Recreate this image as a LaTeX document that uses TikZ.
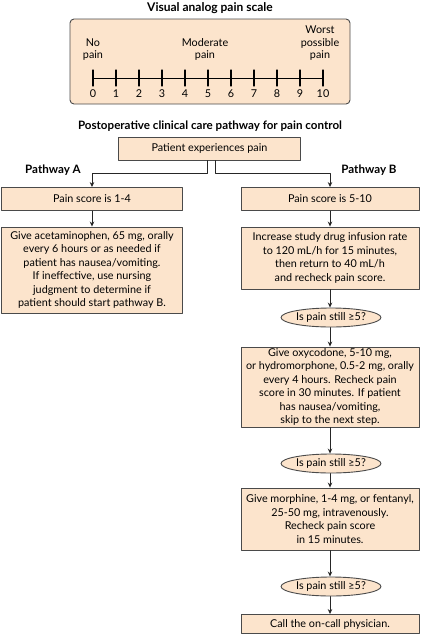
\documentclass[tikz,border=0pt]{standalone}
\usepackage{fontspec}
\setmainfont{Lato}
\usetikzlibrary{shapes.geometric, arrows.meta}
\definecolor{peach}{HTML}{FCE4CC}
\definecolor{edge}{HTML}{4A4A4A}

\begin{document}
\begin{tikzpicture}[x=1pt, y=-1pt, line cap=round, line join=round,
    font=\fontsize{10.8}{13.4}\selectfont,
    box/.style={draw=edge, fill=peach, line width=0.9pt, align=center, inner sep=0pt},
    oval/.style={draw=edge, fill=peach, line width=0.9pt, ellipse, inner sep=0pt, minimum width=100pt, minimum height=19pt},
    heading/.style={font=\fontsize{11.6}{13}\selectfont\bfseries},
    arr/.style={draw=black!85, line width=0.8pt, -{Stealth[length=5pt, width=4.5pt]}}]
        \useasboundingbox (0, 0) rectangle (423, 641);
        % draw pain scale
        \node[heading, font=\fontsize{12}{13}\selectfont\bfseries] (title) at (210, 8) {Visual analog pain scale};
        \path[draw=edge, fill=peach, line width=0.9pt, rounded corners=4pt] (70, 19) rectangle (350, 104);
        \draw[line width=0.9pt] (93, 78) -- (323, 78);
        \foreach \i in {0,...,10} {
            \draw[line width=1.1pt] (93+23*\i, 70) -- (93+23*\i, 86);
            \node (n\i) at (93+23*\i, 94) {\i};
        }
        \node[align=center, anchor=south, font=\fontsize{10.8}{12.5}\selectfont] (nopain) at (93, 64) {No\\pain};
        \node[align=center, anchor=south, font=\fontsize{10.8}{12.5}\selectfont] (modpain) at (205, 64) {Moderate\\pain};
        \node[align=center, anchor=south, font=\fontsize{10.8}{12.5}\selectfont] (worstpain) at (320, 64) {Worst\\possible\\pain};
        % draw pathway heading
        \node[heading] (pathtitle) at (210, 126) {Postoperative clinical care pathway for pain control};
        \node[box, minimum width=182pt, minimum height=23pt] (patient) at (209.5, 148.5) {Patient experiences pain};
        \node[heading] (pathA) at (53, 170) {Pathway A};
        \node[heading] (pathB) at (369, 170) {Pathway B};
        % draw pathway A
        \node[box, minimum width=181pt, minimum height=23pt] (scoreA) at (92, 199) {Pain score is 1-4};
        \node[box, minimum width=181pt, minimum height=86pt] (acet) at (92, 270) {Give acetaminophen, 65 mg, orally\\every 6 hours or as needed if\\patient has nausea/vomiting.\\If ineffective, use nursing\\judgment to determine if\\patient should start pathway B.};
        % draw pathway B
        \node[box, minimum width=178pt, minimum height=23pt] (scoreB) at (330, 199) {Pain score is 5-10};
        \node[box, minimum width=178pt, minimum height=62pt] (infusion) at (330, 258) {Increase study drug infusion rate\\to 120 mL/h for 15 minutes,\\then return to 40 mL/h\\and recheck pain score.};
        \node[oval] (check1) at (331, 317.5) {Is pain still ≥5?};
        \node[box, minimum width=178pt, minimum height=80pt] (oxy) at (330, 387) {Give oxycodone, 5-10 mg,\\or hydromorphone, 0.5-2 mg, orally\\every 4 hours. Recheck pain\\score in 30 minutes. If patient\\has nausea/vomiting,\\skip to the next step.};
        \node[oval] (check2) at (331, 463.5) {Is pain still ≥5?};
        \node[box, minimum width=178pt, minimum height=62pt] (morph) at (330, 519) {Give morphine, 1-4 mg, or fentanyl,\\25-50 mg, intravenously.\\Recheck pain score\\in 15 minutes.};
        \node[oval] (check3) at (331, 586.5) {Is pain still ≥5?};
        \node[box, minimum width=178pt, minimum height=19pt] (call) at (330, 624) {Call the on-call physician.};
        % draw connectors
        \draw[arr] ([xshift=-2.5pt]patient.south) -- ++(0, 13) -| (scoreA.north);
        \draw[arr] ([xshift=5.5pt]patient.south) -- ++(0, 13) -| (scoreB.north);
        \draw[arr] (scoreA) -- (acet);
        \draw[arr] (scoreB) -- (infusion);
        \draw[arr] (infusion) -- (infusion.south |- check1.north);
        \draw[arr] (check1.south -| oxy.north) -- (oxy);
        \draw[arr] (oxy) -- (oxy.south |- check2.north);
        \draw[arr] (check2.south -| morph.north) -- (morph);
        \draw[arr] (morph) -- (morph.south |- check3.north);
        \draw[arr] (check3.south -| call.north) -- (call);
\end{tikzpicture}
\end{document}
